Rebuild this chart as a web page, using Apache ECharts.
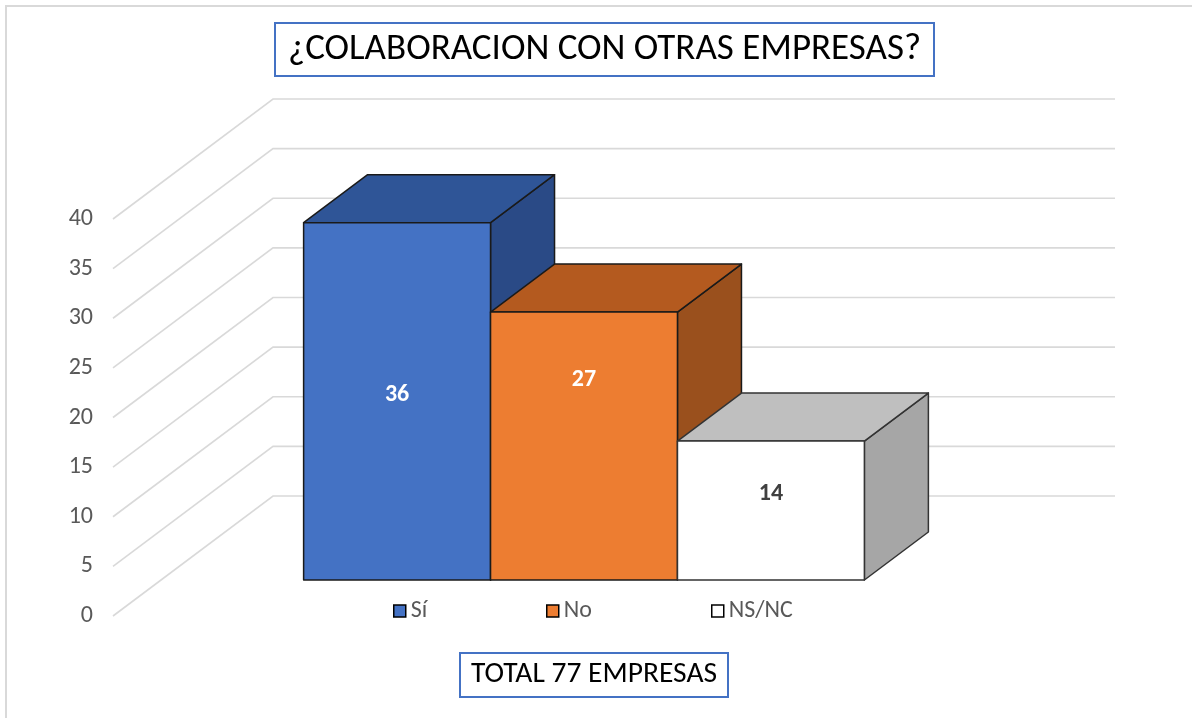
<!DOCTYPE html>
<html><head><meta charset="utf-8">
<script src="https://cdn.jsdelivr.net/npm/echarts@6/dist/echarts.min.js"></script>
<style>html,body{margin:0;padding:0;background:#fff}#c{width:1192px;height:718px}</style>
</head><body><div id="c"></div>
<script>
// ---- data ----
const categories = ['Empresas'];
const seriesNames = ['Sí', 'No', 'NS/NC'];
const valuesSi = [36];
const valuesNo = [27];
const valuesNsnc = [14];
const yTicks = [0, 5, 10, 15, 20, 25, 30, 35, 40];
const titleText = '¿COLABORACION CON OTRAS EMPRESAS?';
const totalText = 'TOTAL 77 EMPRESAS';

// ---- style constants ----
const FONT = "'Carlito', 'Open Sans', sans-serif";
const WALL = [160, -120];          // depth vector: label plane -> back wall
const FRONT_F = 0.30, BACK_F = 0.70; // bar front / back depth fractions
const BAR_FRAC = 0.222;            // bar width as fraction of category band
const BAR_SHIFT = 2;

function makeBar(name, values, idx, face, top, side, edge, labelColor, labelDy) {
  return {
    type: 'custom', name: name, z: 3 + idx,
    itemStyle: { color: face },
    data: values.map((v, i) => [i, v]),
    renderItem: function (params, api) {
      const cat = api.value(0), v = api.value(1);
      const p0 = api.coord([cat, 0]);
      const p1 = api.coord([cat, v]);
      const band = api.size([1, 0])[0];
      const bw = band * BAR_FRAC;
      const fx = WALL[0] * FRONT_F, fy = WALL[1] * FRONT_F;
      const dx = WALL[0] * (BACK_F - FRONT_F), dy = WALL[1] * (BACK_F - FRONT_F);
      const xl = p0[0] - 1.5 * bw + idx * bw + BAR_SHIFT + fx;
      const xr = xl + bw;
      const yb = p0[1] + fy, yt = p1[1] + fy;
      const st = { stroke: edge, lineWidth: 1.5, lineJoin: 'round' };
      return {
        type: 'group', children: [
          { type: 'polygon', shape: { points: [[xr, yt], [xr + dx, yt + dy], [xr + dx, yb + dy], [xr, yb]] }, style: Object.assign({ fill: side }, st) },
          { type: 'polygon', shape: { points: [[xl, yt], [xr, yt], [xr + dx, yt + dy], [xl + dx, yt + dy]] }, style: Object.assign({ fill: top }, st) },
          { type: 'rect', shape: { x: xl, y: yt, width: bw, height: yb - yt }, style: Object.assign({ fill: face }, st) },
          { type: 'text', style: { text: String(v), x: (xl + xr) / 2, y: (yt + yb) / 2 + labelDy, fill: labelColor, font: 'bold 24px ' + FONT, align: 'center', verticalAlign: 'middle' } }
        ]
      };
    }
  };
}

const gridSeries = {
  type: 'custom', name: 'grid', z: 1, silent: true,
  data: yTicks.map(v => [0, v]),
  renderItem: function (params, api) {
    const cs = params.coordSys;
    const y = api.coord([0, api.value(1)])[1];
    return {
      type: 'polyline',
      shape: { points: [[cs.x, y], [cs.x + WALL[0], y + WALL[1]], [cs.x + cs.width + WALL[0], y + WALL[1]]] },
      style: { stroke: '#d9d9d9', lineWidth: 1.6, fill: null }
    };
  }
};

const legendLeft = [393, 546, 711];

const chart = echarts.init(document.getElementById('c'), null, { renderer: 'canvas' });
chart.setOption({
  backgroundColor: '#ffffff',
  animation: false,
  graphic: [{ type: 'rect', shape: { x: 6, y: 6, width: 1220, height: 740 }, style: { fill: null, stroke: '#d9d9d9', lineWidth: 2 } }],
  title: [
    { text: titleText, left: 275, top: 23, padding: [8, 13], borderColor: '#4472C4', borderWidth: 2,
      textStyle: { fontFamily: FONT, fontSize: 37, fontWeight: 'normal', color: '#000' } },
    { text: totalText, left: 460, top: 653, padding: [7, 11], borderColor: '#4472C4', borderWidth: 2,
      textStyle: { fontFamily: FONT, fontSize: 29.5, fontWeight: 'normal', color: '#000' } }
  ],
  legend: seriesNames.map((n, i) => ({
    data: [n], left: legendLeft[i], top: 599, padding: 0, itemWidth: 12, itemHeight: 12, icon: 'rect',
    itemStyle: { borderColor: '#000', borderWidth: 1.5 },
    textStyle: { color: '#595959', fontSize: 24, fontFamily: FONT }
  })),
  grid: { left: 113, top: 219, width: 842, height: 397 },
  xAxis: { type: 'category', data: categories, axisLabel: { show: false }, axisLine: { show: false }, axisTick: { show: false }, splitLine: { show: false } },
  yAxis: { type: 'value', min: 0, max: 40, interval: 5, axisLine: { show: false }, axisTick: { show: false }, splitLine: { show: false },
    axisLabel: { color: '#595959', fontSize: 24, fontFamily: FONT, margin: 20 } },
  series: [
    gridSeries,
    makeBar(seriesNames[0], valuesSi, 0, '#4472C4', '#2F5597', '#2A4A86', '#1a1a1a', '#ffffff', -6),
    makeBar(seriesNames[1], valuesNo, 1, '#ED7D31', '#B45A1F', '#9A501D', '#1a1a1a', '#ffffff', -66),
    makeBar(seriesNames[2], valuesNsnc, 2, '#FFFFFF', '#BFBFBF', '#A6A6A6', '#333333', '#404040', -17)
  ]
});
</script></body></html>
